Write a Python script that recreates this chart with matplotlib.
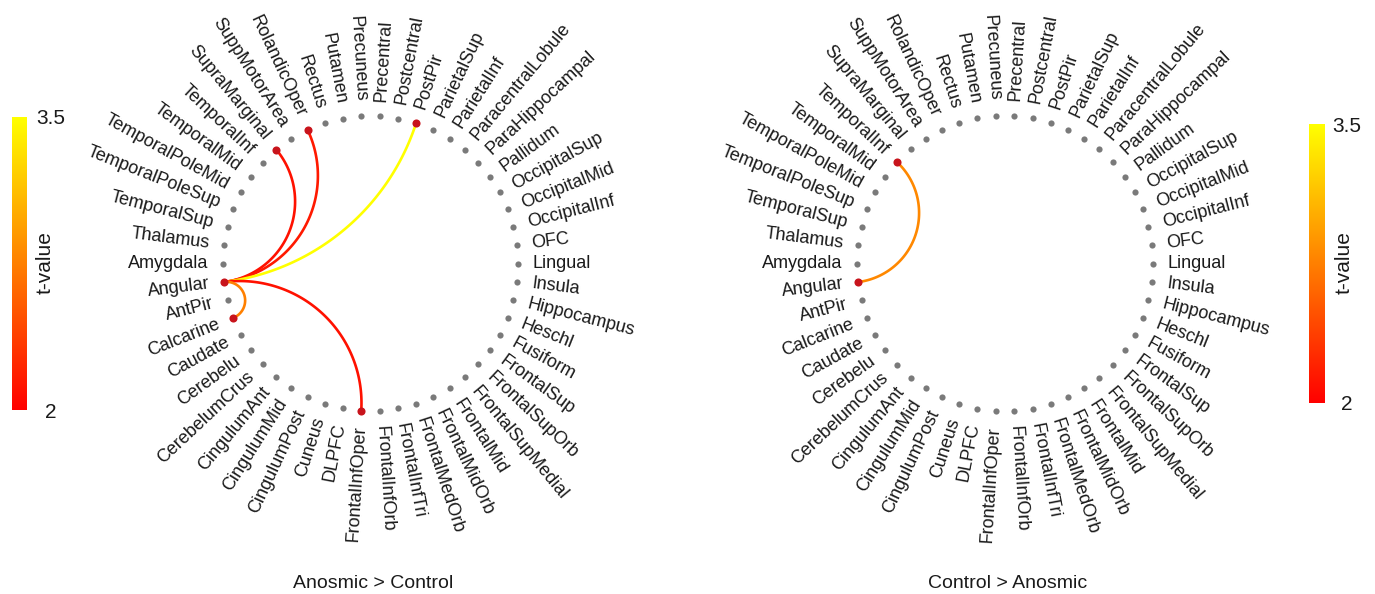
import numpy as np
import matplotlib
matplotlib.use("Agg")
import matplotlib.pyplot as plt
from matplotlib import colors, cm

plt.rcParams['font.family'] = ['Liberation Sans', 'DejaVu Sans']

regions = ['Amygdala', 'Angular', 'AntPir', 'Calcarine', 'Caudate', 'Cerebelu',
           'CerebelumCrus', 'CingulumAnt', 'CingulumMid', 'CingulumPost', 'Cuneus',
           'DLPFC', 'FrontalInfOper', 'FrontalInfOrb', 'FrontalInfTri', 'FrontalMedOrb',
           'FrontalMidOrb', 'FrontalMid', 'FrontalSupMedial', 'FrontalSupOrb', 'FrontalSup',
           'Fusiform', 'Heschl', 'Hippocampus', 'Insula', 'Lingual', 'OFC', 'OccipitalInf',
           'OccipitalMid', 'OccipitalSup', 'Pallidum', 'ParaHippocampal', 'ParacentralLobule',
           'ParietalInf', 'ParietalSup', 'PostPir', 'Postcentral', 'Precentral', 'Precuneus',
           'Putamen', 'Rectus', 'RolandicOper', 'SuppMotorArea', 'SupraMarginal',
           'TemporalInf', 'TemporalMid', 'TemporalPoleMid', 'TemporalPoleSup',
           'TemporalSup', 'Thalamus']

# Anosmic > Control
ac_from = ['Angular', 'Angular', 'Angular', 'Angular', 'Angular']
ac_to = ['SupraMarginal', 'RolandicOper', 'PostPir', 'FrontalInfOper', 'Calcarine']
ac_t = [2.1, 2.15, 3.5, 2.1, 2.75]

# Control > Anosmic
ca_from = ['Angular']
ca_to = ['TemporalInf']
ca_t = [2.8]

W, H = 1375, 594
fig = plt.figure(figsize=(W / 100, H / 100), dpi=100)
ax = fig.add_axes([0, 0, 1, 1])
ax.set_xlim(0, W)
ax.set_ylim(H, 0)
ax.axis('off')

norm = colors.Normalize(2, 3.5)
cmap = plt.get_cmap('autumn')

n = len(regions)
theta = np.deg2rad(180 + 360 * np.arange(n) / n)
idx = {name: i for i, name in enumerate(regions)}


def geodesic(a, b, npts=120):
    # arc of a circle orthogonal to the unit circle, from angle a to angle b
    d = (b - a) % (2 * np.pi)
    if d > np.pi:
        a, b = b, a
        d = 2 * np.pi - d
    pa = np.array([np.cos(a), np.sin(a)])
    pb = np.array([np.cos(b), np.sin(b)])
    if abs(d - np.pi) < 1e-6:
        s = np.linspace(0, 1, npts)
        return pa[0] + s * (pb[0] - pa[0]), pa[1] + s * (pb[1] - pa[1])
    m = a + d / 2
    c = np.array([np.cos(m), np.sin(m)]) / np.cos(d / 2)
    r = np.tan(d / 2)
    ta = np.arctan2(pa[1] - c[1], pa[0] - c[0])
    tb = np.arctan2(pb[1] - c[1], pb[0] - c[0])
    diff = (tb - ta + np.pi) % (2 * np.pi) - np.pi
    t = ta + np.linspace(0, 1, npts) * diff
    return c[0] + r * np.cos(t), c[1] + r * np.sin(t)


def draw_circle(cx, cy, R, src, dst, tvals, title):
    ax.scatter(cx + R * np.cos(theta), cy - R * np.sin(theta), s=20,
               color='#7a7a7a', zorder=3, linewidths=0)
    hot = set()
    for s, d, t in zip(src, dst, tvals):
        i, j = idx[s], idx[d]
        x, y = geodesic(theta[i], theta[j])
        ax.plot(cx + R * x, cy - R * y, color=cmap(norm(t)), lw=1.9, zorder=2,
                solid_capstyle='round')
        hot.update([i, j])
    hot = sorted(hot)
    ax.scatter(cx + R * np.cos(theta[hot]), cy - R * np.sin(theta[hot]), s=34,
               color='#c8141c', zorder=4, linewidths=0)
    for i, name in enumerate(regions):
        ang = np.degrees(theta[i]) % 360
        rr = R + 15
        x = cx + rr * np.cos(theta[i])
        y = cy - rr * np.sin(theta[i])
        if np.cos(theta[i]) >= 0:
            rot = ang if ang <= 180 else ang - 360
            ha = 'left'
        else:
            rot = ang - 180
            ha = 'right'
        ax.text(x, y, name, rotation=rot, rotation_mode='anchor', ha=ha,
                va='center', fontsize=13, color='#1a1a1a')
    ax.text(cx + 3, 584, title, ha='center', va='center', fontsize=14,
            color='#1a1a1a')


draw_circle(370.5, 263.5, 147.5, ac_from, ac_to, ac_t, 'Anosmic > Control')
draw_circle(1005, 263.5, 148, ca_from, ca_to, ca_t, 'Control > Anosmic')


def add_cbar(x0, x1, y0, y1, pad_px, label_x):
    cax = fig.add_axes([x0 / W, 1 - y1 / H, (x1 - x0) / W, (y1 - y0) / H])
    cb = fig.colorbar(cm.ScalarMappable(norm=norm, cmap=cmap), cax=cax,
                      ticks=[2, 3.5])
    cb.outline.set_visible(False)
    cb.set_ticklabels(['2', '3.5'])
    cax.tick_params(length=0, labelsize=15, pad=pad_px * 0.72, colors='#1a1a1a')
    for lbl in cax.get_yticklabels():
        lbl.set_ha('center')
    fig.text(label_x / W, 1 - 263 / H, 't-value', rotation=90, ha='center',
             va='center', fontsize=15, color='#1a1a1a')


add_cbar(12, 27, 117, 410, 24, 45.5)
add_cbar(1309, 1325, 124, 403, 22, 1344)

fig.savefig('out.png', dpi=100)
